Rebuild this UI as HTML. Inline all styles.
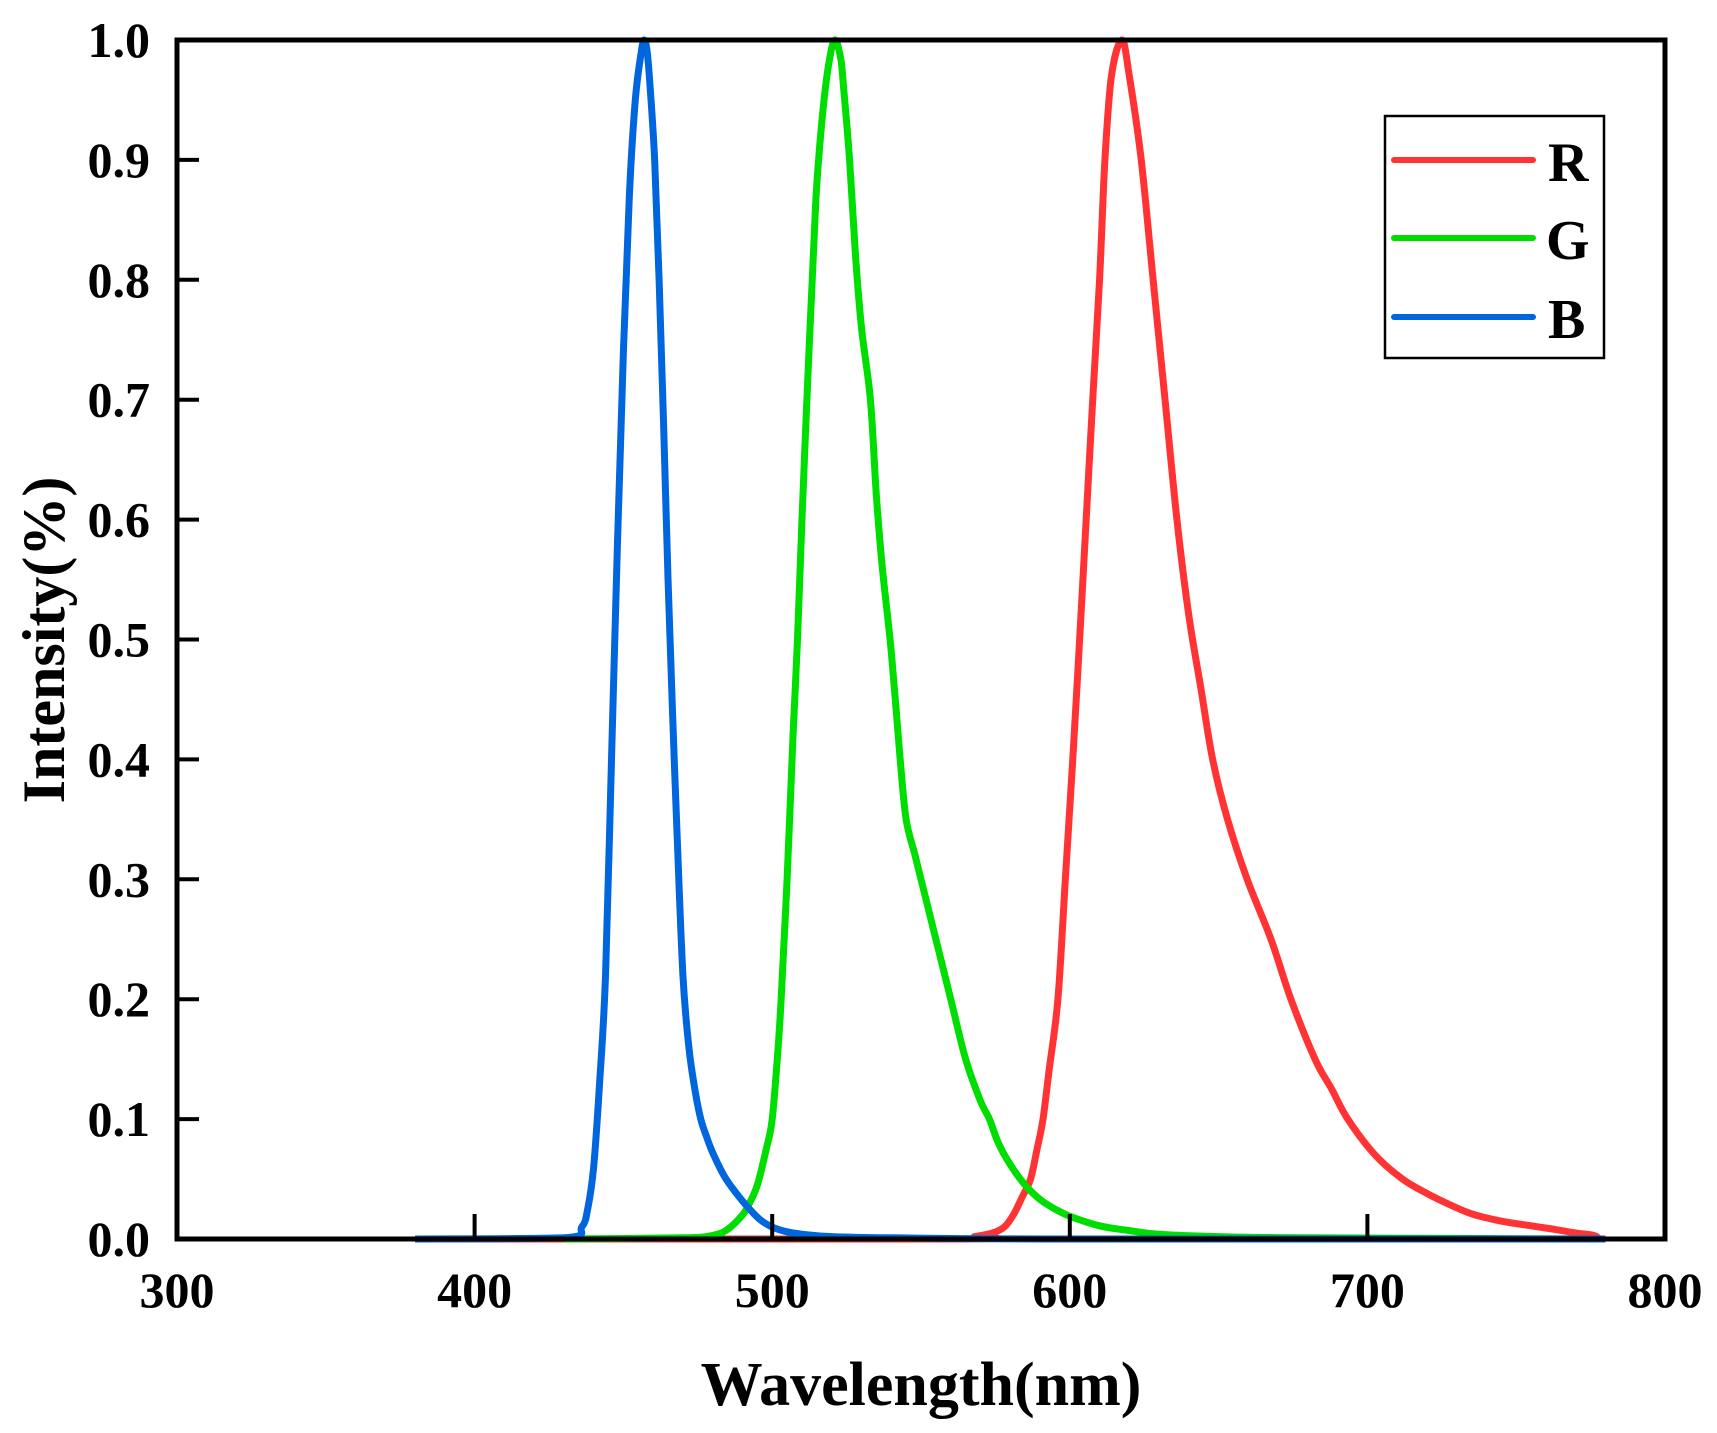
<!DOCTYPE html>
<html><head><meta charset="utf-8">
<style>
html,body{margin:0;padding:0;background:#fff;}
svg{display:block;font-family:"Liberation Serif",serif;font-weight:bold;}
</style></head>
<body>
<svg id="chart" width="1717" height="1433" viewBox="0 0 1717 1433" xmlns="http://www.w3.org/2000/svg">
<g id="plot"></g>
<g id="axes"></g>
<text x="921" y="1405" font-size="62" text-anchor="middle">Wavelength(nm)</text>
<text x="0" y="0" font-size="60" text-anchor="middle" transform="translate(64,640) rotate(-90)">Intensity(%)</text>
<g>
<rect x="1385" y="116" width="219" height="242" fill="#fff" stroke="#000" stroke-width="2.5"/>
<g>
<line x1="1394" y1="160" x2="1533" y2="160" stroke="#ff3333" stroke-width="6" stroke-linecap="round"/>
<text x="1548" y="181" font-size="56">R</text></g>
<g>
<line x1="1394" y1="238" x2="1533" y2="238" stroke="#00dd00" stroke-width="6" stroke-linecap="round"/>
<text x="1546" y="259" font-size="56">G</text></g>
<g>
<line x1="1394" y1="317" x2="1533" y2="317" stroke="#0066dd" stroke-width="6" stroke-linecap="round"/>
<text x="1548" y="338" font-size="56">B</text></g>
</g>
</svg>
<script>
const xTicks = [300,400,500,600,700,800];
const yTicks = [0,0.1,0.2,0.3,0.4,0.5,0.6,0.7,0.8,0.9,1.0];
const yTickLabels = ["0.0","0.1","0.2","0.3","0.4","0.5","0.6","0.7","0.8","0.9","1.0"];

const blueX = [380,430,436,438,440,442,444,446,448,450,452,454,456,457,458,459,460.5,462,463.5,465,466.5,468,470,472,474,476,478,480,484,488,492,496,500,505,510,520,540,600,780];
const blueY = [0,0.001,0.01,0.025,0.06,0.13,0.22,0.4,0.58,0.74,0.87,0.95,0.99,1.0,0.99,0.96,0.9,0.8,0.68,0.55,0.44,0.34,0.22,0.16,0.125,0.1,0.085,0.072,0.052,0.038,0.026,0.016,0.01,0.006,0.004,0.002,0.001,0,0];

const greenX = [430,470,480,485,490,492,495,498,500,502,503,505,507,508.5,510,512,514,515,517,519,521,523,524,526,528,530,533,535,537,540,543,545,548,551,555,560,565,570,573,576,580,585,590,595,600,610,620,630,650,680,780];
const greenY = [0,0.001,0.003,0.008,0.02,0.028,0.045,0.075,0.1,0.16,0.2,0.3,0.42,0.5,0.6,0.72,0.83,0.88,0.94,0.98,1.0,0.985,0.96,0.9,0.82,0.76,0.7,0.62,0.56,0.49,0.4,0.35,0.32,0.29,0.25,0.2,0.15,0.115,0.1,0.08,0.062,0.045,0.033,0.025,0.019,0.011,0.007,0.004,0.002,0.001,0];

const redX = [380,560,568,574,578,581,584,586.8,589,591,593,596,598.5,601,603.3,605.5,607.7,610,611.8,614,617.5,620,624,628,632,636,640,644,648,653,659.6,667.6,674.3,682.4,688,693.4,702.6,711.8,720,726.5,735,744.9,755,763,770,776,778];
const redY = [0,0,0.002,0.005,0.01,0.02,0.035,0.05,0.075,0.1,0.14,0.2,0.3,0.4,0.5,0.6,0.7,0.8,0.9,0.97,1.0,0.97,0.9,0.8,0.7,0.6,0.52,0.46,0.4,0.35,0.3,0.25,0.2,0.15,0.125,0.1,0.07,0.05,0.038,0.03,0.021,0.015,0.011,0.008,0.005,0.003,0];

const L=177,R=1665,T=40,B=1239;
function xs(v){return L+(v-300)/(800-300)*(R-L);}
function ys(v){return B-v*(B-T);}

const NS="http://www.w3.org/2000/svg";
const plot=document.getElementById('plot');
const axes=document.getElementById('axes');

function drawSeries(xa,ya,color,name){
  const pts=xa.map(function(v,i){return [xs(v),ys(ya[i])];});
  let d='M'+pts[0][0].toFixed(2)+','+pts[0][1].toFixed(2);
  for(let i=0;i<pts.length-1;i++){
    const p0=pts[Math.max(0,i-1)],p1=pts[i],p2=pts[i+1],p3=pts[Math.min(pts.length-1,i+2)];
    let c1x=p1[0]+(p2[0]-p0[0])/6,c1y=p1[1]+(p2[1]-p0[1])/6;
    let c2x=p2[0]-(p3[0]-p1[0])/6,c2y=p2[1]-(p3[1]-p1[1])/6;
    c1y=Math.min(B,c1y);c2y=Math.min(B,c2y);
    d+='C'+c1x.toFixed(2)+','+c1y.toFixed(2)+' '+c2x.toFixed(2)+','+c2y.toFixed(2)+' '+p2[0].toFixed(2)+','+p2[1].toFixed(2);
  }
  const p=document.createElementNS(NS,'path');
  p.setAttribute('d',d);
  p.setAttribute('fill','none');
  p.setAttribute('stroke',color);
  p.setAttribute('stroke-width','7');
  p.setAttribute('stroke-linejoin','round');
  
  
  plot.appendChild(p);
}
drawSeries(redX,redY,'#ff3333','series-r');
drawSeries(greenX,greenY,'#00dd00','series-g');
drawSeries(blueX,blueY,'#0066dd','series-b');

const fr=document.createElementNS(NS,'rect');
fr.setAttribute('x',L);fr.setAttribute('y',T);fr.setAttribute('width',R-L);fr.setAttribute('height',B-T);
fr.setAttribute('fill','none');fr.setAttribute('stroke','#000');fr.setAttribute('stroke-width','5');


axes.appendChild(fr);

xTicks.forEach(function(v){
  const x=xs(v);
  const t=document.createElementNS(NS,'line');
  t.setAttribute('x1',x);t.setAttribute('x2',x);t.setAttribute('y1',B);t.setAttribute('y2',B-25);
  t.setAttribute('stroke','#000');t.setAttribute('stroke-width','4');
  
  
  axes.appendChild(t);
  const tx=document.createElementNS(NS,'text');
  tx.setAttribute('x',x);tx.setAttribute('y',1307);tx.setAttribute('font-size','50');tx.setAttribute('text-anchor','middle');
  tx.textContent=String(v);
  
  
  axes.appendChild(tx);
});
yTicks.forEach(function(v,i){
  const y=ys(v);
  const t=document.createElementNS(NS,'line');
  t.setAttribute('x1',L);t.setAttribute('x2',L+22);t.setAttribute('y1',y);t.setAttribute('y2',y);
  t.setAttribute('stroke','#000');t.setAttribute('stroke-width','4');
  
  
  axes.appendChild(t);
  const tx=document.createElementNS(NS,'text');
  tx.setAttribute('x',150);tx.setAttribute('y',y+17);tx.setAttribute('font-size','50');tx.setAttribute('text-anchor','end');
  tx.textContent=yTickLabels[i];
  
  
  axes.appendChild(tx);
});
</script>
</body></html>
